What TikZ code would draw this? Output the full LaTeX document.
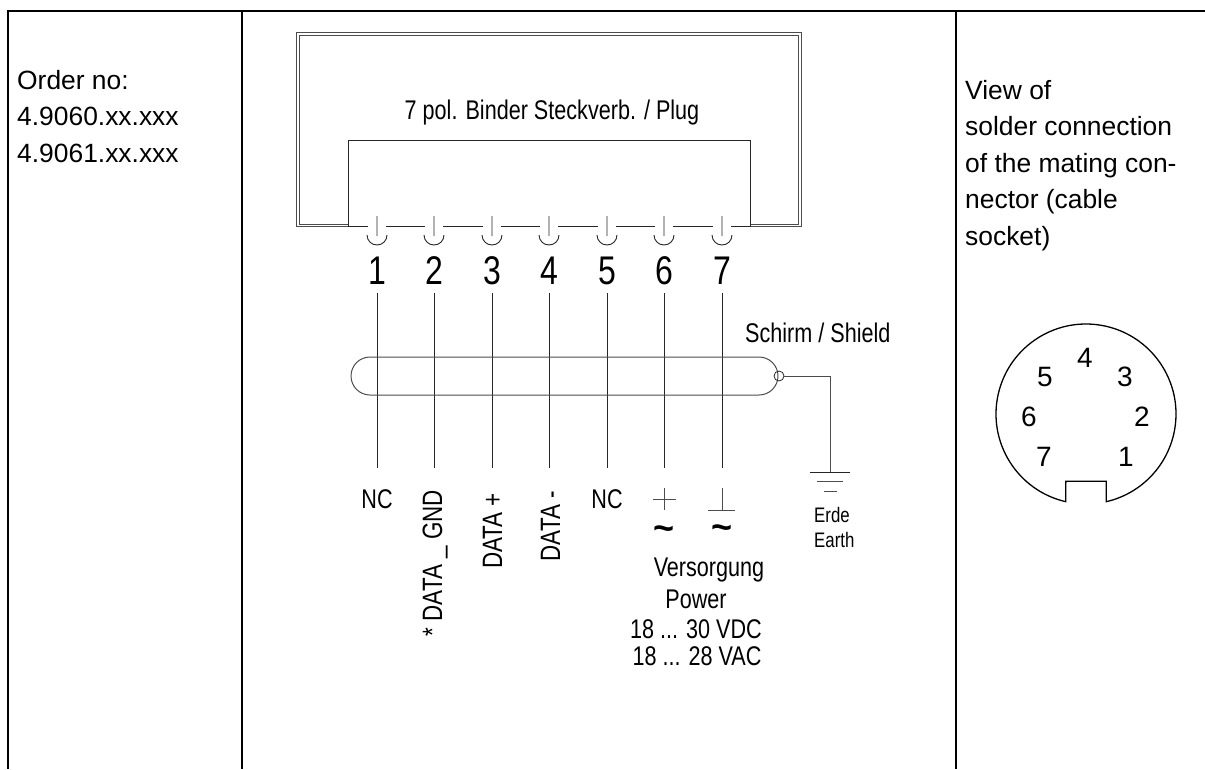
\documentclass[tikz,border=0pt]{standalone}
\usepackage{fontspec}
\setmainfont{Liberation Sans}
\newfontfamily\narrowfont[FakeStretch=0.8]{Liberation Sans}
\usetikzlibrary{arrows, arrows.meta}
\tikzset{
  plaintext/.style={inner sep=0pt, font=\fontsize{26.4}{36.5}\selectfont, align=left},
  cadtext/.style={inner sep=0pt, font=\narrowfont\fontsize{27}{32}\selectfont},
  cadvert/.style={inner sep=0pt, font=\narrowfont\fontsize{28}{32}\selectfont, rotate=90},
  smalltext/.style={inner sep=0pt, font=\narrowfont\fontsize{21}{25}\selectfont},
  pinnum/.style={inner sep=0pt, font=\narrowfont\fontsize{40}{44}\selectfont},
  socknum/.style={inner sep=0pt, font=\fontsize{28}{32}\selectfont},
  tilde/.style={inner sep=0pt, font=\bfseries\fontsize{36}{38}\selectfont},
  frameline/.style={line width=2pt},
  wire/.style={line width=0.9pt, black!85},
  shell/.style={line width=1pt, black!70},
}
\begin{document}
\begin{tikzpicture}[x=1pt,y=1pt]
\useasboundingbox (0,0) rectangle (1205,-769);
\draw[frameline] (8,-769) -- (8,-11) -- (1205,-11);
\draw[frameline] (242,-11) -- (242,-769);
\draw[frameline] (956,-11) -- (956,-769);
\node[plaintext, anchor=base west] (orderno) at (17,-162) {Order no:\\4.9060.xx.xxx\\4.9061.xx.xxx};
\node[plaintext, anchor=base west] (viewof) at (965,-245) {View of\\solder connection\\of the mating con-\\nector (cable\\socket)};
% plug housing
\draw[shell] (348,-226.5) -- (296,-226.5) -- (296,-32) -- (801,-32) -- (801,-226.5) -- (750,-226.5);
\draw[shell] (348,-224) -- (299,-224) -- (299,-35) -- (798,-35) -- (798,-224) -- (750,-224);
\draw[wire] (348,-226.5) -- (348,-140) -- (750,-140) -- (750,-226.5);
\draw[wire] (348,-226.5) -- (368,-226.5) (386,-226.5) -- (425,-226.5) (443,-226.5) -- (483,-226.5) (501,-226.5) -- (540,-226.5) (558,-226.5) -- (598,-226.5) (616,-226.5) -- (655,-226.5) (673,-226.5) -- (713,-226.5) (731,-226.5) -- (750,-226.5);
\node[cadtext, anchor=base] (plugname) at (552,-119) {7 pol. Binder Steckverb. / Plug};
% pins
\draw[wire] (377,-216) -- (377,-236) (367,-235) arc[start angle=180,end angle=360,radius=10];
\draw[wire] (434,-216) -- (434,-236) (424,-235) arc[start angle=180,end angle=360,radius=10];
\draw[wire] (492,-216) -- (492,-236) (482,-235) arc[start angle=180,end angle=360,radius=10];
\draw[wire] (549,-216) -- (549,-236) (539,-235) arc[start angle=180,end angle=360,radius=10];
\draw[wire] (607,-216) -- (607,-236) (597,-235) arc[start angle=180,end angle=360,radius=10];
\draw[wire] (664,-216) -- (664,-236) (654,-235) arc[start angle=180,end angle=360,radius=10];
\draw[wire] (722,-216) -- (722,-236) (712,-235) arc[start angle=180,end angle=360,radius=10];
\node[pinnum, anchor=base] (pin1) at (377,-284) {1};
\node[pinnum, anchor=base] (pin2) at (434,-284) {2};
\node[pinnum, anchor=base] (pin3) at (492,-284) {3};
\node[pinnum, anchor=base] (pin4) at (549,-284) {4};
\node[pinnum, anchor=base] (pin5) at (607,-284) {5};
\node[pinnum, anchor=base] (pin6) at (664,-284) {6};
\node[pinnum, anchor=base] (pin7) at (722,-284) {7};
% wires
\coordinate (top1) at (377,-293); \coordinate (end1) at (377,-468);
\coordinate (top2) at (434,-293); \coordinate (end2) at (434,-468);
\coordinate (top3) at (492,-293); \coordinate (end3) at (492,-468);
\coordinate (top4) at (549,-293); \coordinate (end4) at (549,-468);
\coordinate (top5) at (607,-293); \coordinate (end5) at (607,-468);
\coordinate (top6) at (664,-293); \coordinate (end6) at (664,-468);
\coordinate (top7) at (722,-293); \coordinate (end7) at (722,-468);
\draw[wire] (top1) -- (end1);
\draw[wire] (top2) -- (end2);
\draw[wire] (top3) -- (end3);
\draw[wire] (top4) -- (end4);
\draw[wire] (top5) -- (end5);
\draw[wire] (top6) -- (end6);
\draw[wire] (top7) -- (end7);
% cable and shield
\draw[shell, rounded corners=19pt] (351,-357) rectangle (778,-395);
\node[draw, circle, inner sep=0pt, minimum size=10pt, line width=0.8pt, black!85] (shieldend) at (779,-376) {};
\coordinate (gnd) at (830,-472);
\draw[shell] (shieldend) -| (gnd);
\draw[wire] (810,-472) -- (850,-472);
\draw[shell] (817,-481) -- (843,-481);
\draw[shell] (824,-491) -- (837,-491);
\node[cadtext, anchor=base west] (shieldname) at (745,-342) {Schirm / Shield};
\node[smalltext, anchor=base west] (erde) at (814,-522) {Erde};
\node[smalltext, anchor=base west] (earth) at (814,-547) {Earth};
% wire labels
\node[cadtext, anchor=base] (nc1) at (377,-508) {NC};
\node[cadvert, anchor=base east] (datagnd) at (442,-490) {* DATA \_ GND};
\node[cadvert, anchor=base east] (dataplus) at (502,-493) {DATA +};
\node[cadvert, anchor=base east] (dataminus) at (560,-491) {DATA -};
\node[cadtext, anchor=base] (nc5) at (607,-508) {NC};
\draw[shell] (653,-499) -- (676,-499) (664,-488) -- (664,-510);
\draw[shell] (708,-510) -- (735,-510) (722,-488) -- (722,-510);
\node[tilde] (acplus) at (664,-533) {\textasciitilde};
\node[tilde] (acminus) at (722,-532) {\textasciitilde};
\node[cadtext, anchor=base] (versorgung) at (709,-576) {Versorgung};
\node[cadtext, anchor=base] (power) at (696,-608) {Power};
\node[cadtext, anchor=base] (vdc) at (696,-638) {18 ... 30 VDC};
\node[cadtext, anchor=base] (vac) at (697,-665) {18 ... 28 VAC};
% socket
\coordinate (sockc) at (1086,-414);
\draw[line width=1.3pt] (sockc) ++(257:90) arc[start angle=257,end angle=-77,radius=90] -- ++(0,20.5) -- ++(-40.4,0) -- cycle;
\node[socknum] (sock4) at (1085,-358) {4};
\node[socknum] (sock5) at (1045,-377) {5};
\node[socknum] (sock3) at (1125,-377) {3};
\node[socknum] (sock6) at (1029,-417) {6};
\node[socknum] (sock2) at (1142,-417) {2};
\node[socknum] (sock7) at (1044,-457) {7};
\node[socknum] (sock1) at (1126,-457) {1};
\end{tikzpicture}
\end{document}
